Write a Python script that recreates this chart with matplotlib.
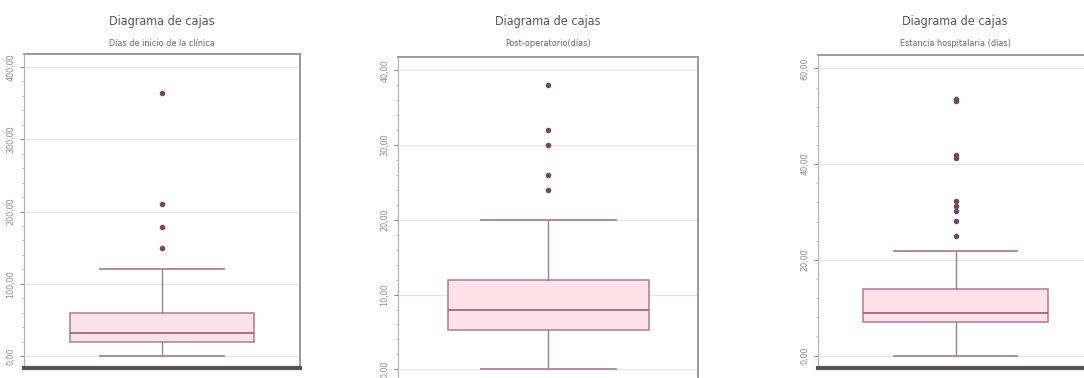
import matplotlib
matplotlib.use("Agg")
import matplotlib.pyplot as plt
from matplotlib.ticker import MultipleLocator, FuncFormatter
from matplotlib import font_manager

# estadisticos de cada diagrama de cajas
titulos = ["Días de inicio de la clínica", "Post-operatorio(días)", "Estancia hospitalaria (días)"]
whislo = [0, 0, 0]
q1 = [20, 5.2, 7.1]
medianas = [32, 8.0, 8.9]
q3 = [59, 12.0, 13.9]
whishi = [120, 20, 21.9]
atipicos = [
    [149, 179, 210, 364],
    [24, 26, 30, 32, 38],
    [25.0, 28.1, 30.3, 31.3, 32.3, 41.2, 41.9, 53.2, 53.7],
]
ticks_y = [[0, 100, 200, 300, 400], [0, 10, 20, 30, 40], [0, 20, 40, 60]]
menores = [20, 2, 4]

W, H = 1084, 378
# posicion de cada panel en pixeles: izq, der, arriba, abajo, y limites
paneles = [
    (24, 300, 54, 368, (-16.6, 418)),
    (398, 698, 57, 385, (-2.1, 41.8)),
    (818, 1093, 55, 368, (-2.6, 62.8)),
]

fig = plt.figure(figsize=(W / 100, H / 100), dpi=100)
nombres = {f.name for f in font_manager.fontManager.ttflist}
fuente = "Liberation Sans Narrow" if "Liberation Sans Narrow" in nombres else "DejaVu Sans"

fmt = FuncFormatter(lambda v, p: f"{v:.2f}".replace(".", ","))

for i, (x0, x1, y0, y1, lim) in enumerate(paneles):
    ax = fig.add_axes([x0 / W, (H - y1) / H, (x1 - x0) / W, (y1 - y0) / H])
    stats = [{
        "med": medianas[i], "q1": q1[i], "q3": q3[i],
        "whislo": whislo[i], "whishi": whishi[i], "fliers": atipicos[i],
    }]
    ax.bxp(stats, positions=[1], widths=0.67, capwidths=0.45, patch_artist=True,
           boxprops=dict(facecolor="#fde3e9", edgecolor="#b07a93", linewidth=1.1),
           medianprops=dict(color="#9a5b78", linewidth=1.2),
           whiskerprops=dict(color="#9a8094", linewidth=1.0),
           capprops=dict(color="#a8849a", linewidth=1.3),
           flierprops=dict(marker="o", markersize=3.0, markerfacecolor="#6e4a62",
                           markeredgecolor="#6e4a62"))
    ax.set_xlim(0.5, 1.5)
    ax.set_ylim(*lim)
    ax.set_yticks(ticks_y[i])
    ax.yaxis.set_minor_locator(MultipleLocator(menores[i]))
    ax.yaxis.set_major_formatter(fmt)
    ax.set_xticks([])
    ax.grid(axis="y", color="#e4e4e4", linewidth=0.9)
    ax.set_axisbelow(True)
    ax.tick_params(axis="y", which="major", length=3, width=0.8, color="#888888",
                   labelsize=6.5, labelcolor="#8a8a8a", labelrotation=90, pad=3)
    ax.tick_params(axis="y", which="minor", length=1.5, width=0.6, color="#aaaaaa")
    for lbl in ax.get_yticklabels():
        lbl.set_verticalalignment("center")
        lbl.set_fontstretch("condensed")
    for lado in ["top", "right"]:
        ax.spines[lado].set_color("#9a9a9a")
        ax.spines[lado].set_linewidth(1.4)
    ax.spines["left"].set_color("#b0b0b0")
    ax.spines["left"].set_linewidth(0.8)
    ax.spines["bottom"].set_color("#555555")
    ax.spines["bottom"].set_linewidth(3)

    xc = (x0 + x1) / 2 if i < 2 else 955
    fig.text(xc / W, 1 - 22 / H, "Diagrama de cajas", ha="center", va="center",
             fontsize=9, color="#555555", family=fuente, fontstretch="condensed")
    fig.text(xc / W, 1 - 44 / H, titulos[i], ha="center", va="center",
             fontsize=6.5, color="#666666", family=fuente, fontstretch="condensed")

fig.savefig("out.png", dpi=100)
